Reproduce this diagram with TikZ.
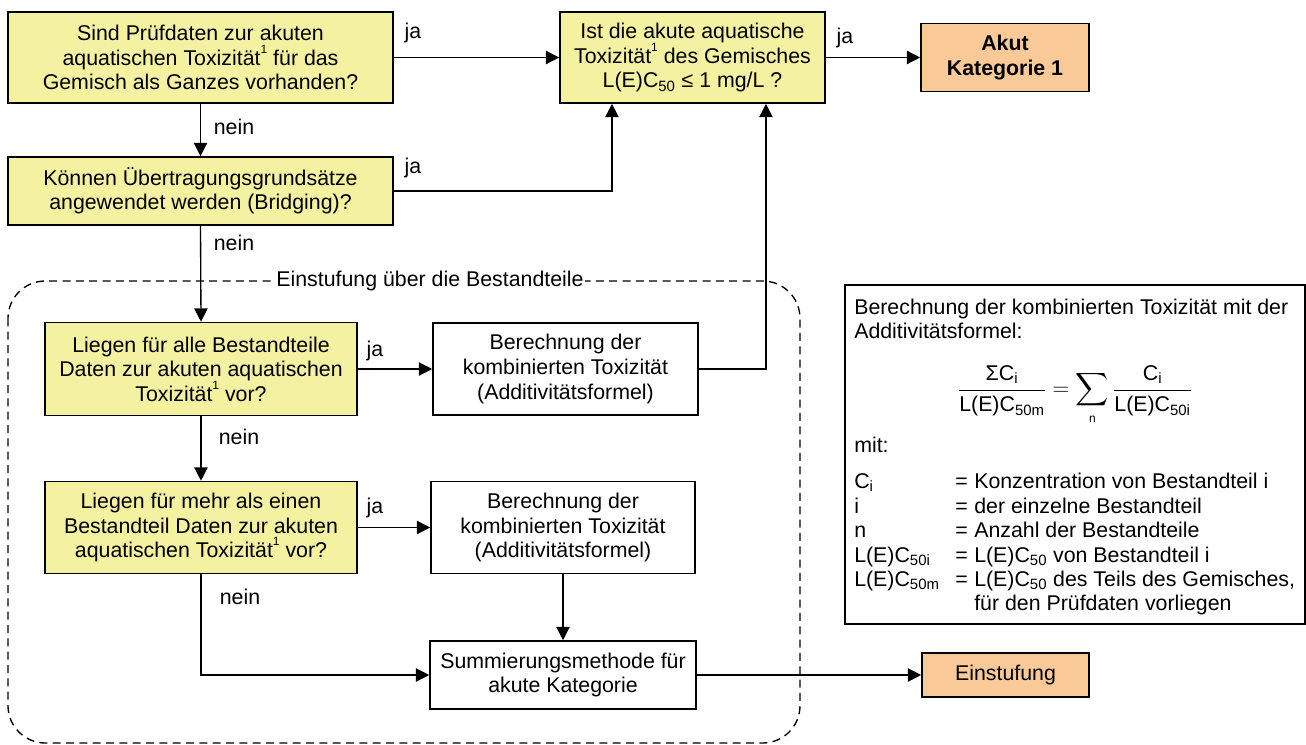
\documentclass[tikz,border=0pt]{standalone}
\usepackage{amsmath}
\usepackage{fontspec}
\setmainfont{Liberation Sans}
\usetikzlibrary{arrows.meta}
\definecolor{ylw}{RGB}{244,241,160}
\definecolor{org}{RGB}{249,201,152}
\newcommand\supone{\raisebox{0.55em}{\fontsize{9}{9}\selectfont 1}}
\begin{document}
\begin{tikzpicture}[x=0.75pt,y=-0.75pt,
  font=\fontsize{16}{18.4}\selectfont,
  box/.style={draw=black,line width=1.2pt,align=center,inner sep=0pt},
  qbox/.style={box,fill=ylw},
  resbox/.style={box,fill=org},
  conn/.style={line width=1pt,-{Triangle[length=10pt,width=10pt]}},
  lbl/.style={inner sep=0pt},
  lg/.style={inner sep=0pt,anchor=base west}
]
\useasboundingbox (0,0) rectangle (1306,745);

% dashed region
\draw[dashed,line width=1pt,dash pattern=on 6pt off 4pt,rounded corners=28] (8,281) rectangle (800,743);
\node[fill=white,inner sep=1pt] (reg) at (430,281) {Einstufung über die Bestandteile};

% boxes
\node[qbox,minimum width=288.75pt,minimum height=68.25pt] (A) at (200.5,57.5)
  {Sind Prüfdaten zur akuten\\aquatischen Toxizität\supone{} für das\\Gemisch als Ganzes vorhanden?};
\node[qbox,minimum width=198.75pt,minimum height=68.25pt] (C) at (692.5,57.5)
  {Ist die akute aquatische\\Toxizität\supone{} des Gemisches\\L(E)C\textsubscript{50} ≤ 1 mg/L ?};
\node[resbox,minimum width=126pt,minimum height=51pt,font=\fontsize{16}{18.4}\selectfont\bfseries] (D) at (1005,57.5)
  {Akut\\Kategorie 1};
\node[qbox,minimum width=288.75pt,minimum height=51pt] (B) at (200.5,191)
  {Können Übertragungsgrundsätze\\angewendet werden (Bridging)?};
\node[qbox,minimum width=234pt,minimum height=69.75pt] (E) at (201,369)
  {Liegen für alle Bestandteile\\Daten zur akuten aquatischen\\Toxizität\supone{} vor?};
\node[qbox,minimum width=234pt,minimum height=69pt] (F) at (201,527.5)
  {Liegen für mehr als einen\\Bestandteil Daten zur akuten\\aquatischen Toxizität\supone{} vor?};
\node[box,minimum width=198.75pt,minimum height=69pt] (G) at (565.5,369)
  {Berechnung der\\kombinierten Toxizität\\(Additivitätsformel)};
\node[box,minimum width=198pt,minimum height=69pt] (H) at (563,527.5)
  {Berechnung der\\kombinierten Toxizität\\(Additivitätsformel)};
\node[box,minimum width=199.5pt,minimum height=51pt] (S) at (563,675)
  {Summierungsmethode für\\akute Kategorie};
\node[resbox,minimum width=125.25pt,minimum height=33pt] (T) at (1005.5,675)
  {Einstufung};

% connectors
\draw[conn] (A.east) -- (C.west);
\draw[conn] (C.east) -- (D.west);
\draw[conn] (A.south) -- (B.north);
\draw[conn] (B.east) -| ([xshift=-60.4pt]C.south);
\draw[conn] (B.south) -- (E.north);
\draw[conn] (E.east) -- (G.west);
\draw[conn] (G.east) -| ([xshift=55.1pt]C.south);
\draw[conn] (E.south) -- (F.north);
\draw[conn] (F.east) -- (H.west);
\draw[conn] (H.south) -- (S.north);
\draw[conn] (F.south) |- (S.west);
\draw[conn] (S.east) -- (T.west);

% connector labels
\node[lbl] (j1) at (413,33) {ja};
\node[lbl] (j2) at (413,168) {ja};
\node[lbl] (j3) at (845,38) {ja};
\node[lbl] (j4) at (375,351) {ja};
\node[lbl] (j5) at (375,508) {ja};
\node[lbl] (n1) at (234,127) {nein};
\node[lbl] (n2) at (234,243) {nein};
\node[lbl] (n3) at (239,437) {nein};
\node[lbl] (n4) at (240,597) {nein};

% legend
\node[draw=black,line width=1.2pt,minimum width=345pt,minimum height=254.25pt,inner sep=0pt] (L) at (1075,454.5) {};
\node[lg] (l1) at (854,315) {Berechnung der kombinierten Toxizität mit der};
\node[lg] (l2) at (854,338) {Additivitätsformel:};
\node[inner sep=0pt] (fm) at (1075,395)
  {$\displaystyle\frac{\mbox{ΣC\textsubscript{i}}}{\mbox{L(E)C\textsubscript{50m}}} = \sum_{\mbox{\fontsize{9}{9}\selectfont n}}\frac{\mbox{C\textsubscript{i}}}{\mbox{L(E)C\textsubscript{50i}}}$};
\node[lg] (l3) at (854,452) {mit:};
\node[lg] (k1) at (854,488) {C\textsubscript{i}};
\node[lg] (k2) at (854,513) {i};
\node[lg] (k3) at (854,537) {n};
\node[lg] (k4) at (854,562) {L(E)C\textsubscript{50i}};
\node[lg] (k5) at (854,586) {L(E)C\textsubscript{50m}};
\node[lg] (e1) at (955,488) {=};
\node[lg] (e2) at (955,513) {=};
\node[lg] (e3) at (955,537) {=};
\node[lg] (e4) at (955,562) {=};
\node[lg] (e5) at (955,586) {=};
\node[lg] (v1) at (974,488) {Konzentration von Bestandteil i};
\node[lg] (v2) at (974,513) {der einzelne Bestandteil};
\node[lg] (v3) at (974,537) {Anzahl der Bestandteile};
\node[lg] (v4) at (974,562) {L(E)C\textsubscript{50} von Bestandteil i};
\node[lg] (v5) at (974,586) {L(E)C\textsubscript{50} des Teils des Gemisches,};
\node[lg] (v6) at (974,610) {für den Prüfdaten vorliegen};
\end{tikzpicture}
\end{document}
